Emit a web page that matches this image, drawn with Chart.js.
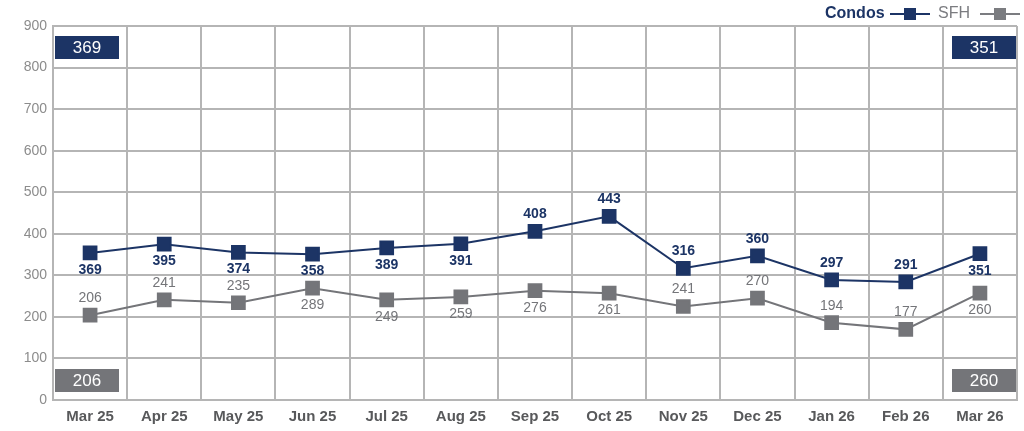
<!DOCTYPE html>
<html>
<head>
<meta charset="utf-8">
<script src="https://cdn.jsdelivr.net/npm/chart.js@4/dist/chart.umd.min.js"></script>
<style>
  html, body { margin: 0; padding: 0; background: #fff; }
  #wrap { width: 1024px; height: 431px; }
</style>
</head>
<body>
<div id="wrap"><canvas id="chart"></canvas></div>
<script>
// months
const months = ['Mar 25','Apr 25','May 25','Jun 25','Jul 25','Aug 25','Sep 25','Oct 25','Nov 25','Dec 25','Jan 26','Feb 26','Mar 26'];
// plotted positions
const condos = [354, 375, 355, 351, 366, 376, 406, 442, 317, 347, 289, 284, 352];
const sfh = [204, 241, 234, 269, 241, 248, 263, 257, 225, 245, 186, 170, 257];
// printed labels
const condoLabels = ['369','395','374','358','389','391','408','443','316','360','297','291','351'];
const sfhLabels = ['206','241','235','289','249','259','276','261','241','270','194','177','260'];
// where label goes: 1 = above, -1 = below
const condoSide = [-1,-1,-1,-1,-1,-1,1,1,1,1,1,1,-1];
const sfhSide = [1,1,1,-1,-1,-1,-1,-1,1,1,1,1,-1];
const yTicks = [0,100,200,300,400,500,600,700,800,900];

const NAVY = '#1c3465';
const GREY = '#747579';
const FONT = '"Liberation Sans", Arial, sans-serif';

const labelsPlugin = {
  id: 'labels',
  afterDatasetsDraw(chart) {
    const ctx = chart.ctx;
    ctx.save();
    ctx.textAlign = 'center';
    ctx.textBaseline = 'middle';
    const sets = [
      { i: 0, txt: condoLabels, side: condoSide, color: NAVY, font: 'bold 14px ' + FONT },
      { i: 1, txt: sfhLabels, side: sfhSide, color: GREY, font: '14px ' + FONT }
    ];
    sets.forEach(s => {
      const meta = chart.getDatasetMeta(s.i);
      ctx.fillStyle = s.color;
      ctx.font = s.font;
      meta.data.forEach((pt, k) => {
        ctx.fillText(s.txt[k], pt.x, pt.y - s.side[k] * 17);
      });
    });

    // corner boxes
    const a = chart.chartArea;
    const box = (x, y, bg, txt) => {
      ctx.fillStyle = bg;
      ctx.fillRect(x, y, 64, 23);
      ctx.fillStyle = '#fff';
      ctx.font = '17px ' + FONT;
      ctx.fillText(txt, x + 32, y + 12);
    };
    box(a.left + 2, a.top + 10, NAVY, condoLabels[0]);
    box(a.right - 65, a.top + 10, NAVY, condoLabels[condoLabels.length - 1]);
    box(a.left + 2, a.bottom - 31, GREY, sfhLabels[0]);
    box(a.right - 65, a.bottom - 31, GREY, sfhLabels[sfhLabels.length - 1]);

    // legend
    const ly = 14;
    const leg = (xText, txt, color, font, xLine) => {
      ctx.textAlign = 'left';
      ctx.font = font;
      ctx.fillStyle = color;
      ctx.fillText(txt, xText, ly);
      ctx.strokeStyle = color;
      ctx.lineWidth = 2;
      ctx.beginPath();
      ctx.moveTo(xLine, ly);
      ctx.lineTo(xLine + 40, ly);
      ctx.stroke();
      ctx.fillRect(xLine + 14, ly - 6, 12, 12);
    };
    leg(825, 'Condos', NAVY, 'bold 16px ' + FONT, 890);
    leg(938, 'SFH', '#7b7c80', '16px ' + FONT, 980);
    ctx.restore();
  }
};

new Chart(document.getElementById('chart'), {
  type: 'line',
  data: {
    labels: months,
    datasets: [
      {
        label: 'Condos', data: condos,
        borderColor: NAVY, backgroundColor: NAVY, borderWidth: 2,
        pointStyle: 'rect', pointRadius: 9, pointHoverRadius: 9, tension: 0
      },
      {
        label: 'SFH', data: sfh,
        borderColor: GREY, backgroundColor: GREY, borderWidth: 2,
        pointStyle: 'rect', pointRadius: 9, pointHoverRadius: 9, tension: 0
      }
    ]
  },
  options: {
    responsive: true,
    maintainAspectRatio: false,
    animation: false,
    layout: { autoPadding: false, padding: { top: 26, right: 7, left: 0, bottom: 0 } },
    plugins: { legend: { display: false }, tooltip: { enabled: false } },
    scales: {
      x: {
        offset: true,
        grid: { offset: true, color: '#b5b5b5', lineWidth: 2, drawTicks: false },
        border: { color: '#b5b5b5', width: 2 },
        ticks: { color: '#58595b', font: { family: FONT, size: 15, weight: 'bold' }, padding: 8 },
        afterFit(s) { s.height = 31; s.paddingLeft = 0; s.paddingRight = 0; }
      },
      y: {
        min: 0, max: 900,
        afterBuildTicks(s) { s.ticks = yTicks.map(v => ({ value: v })); },
        grid: { color: '#b5b5b5', lineWidth: 2, drawTicks: false },
        border: { color: '#b5b5b5', width: 2 },
        ticks: { color: '#8c8c8c', font: { family: FONT, size: 14 }, padding: 6 },
        afterFit(s) { s.width = 53; s.paddingTop = 0; s.paddingBottom = 0; }
      }
    }
  },
  plugins: [labelsPlugin]
});
</script>
</body>
</html>
